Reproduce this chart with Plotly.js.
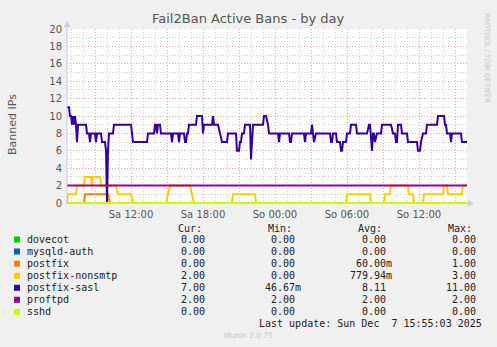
<!DOCTYPE html>
<html>
<head>
<meta charset="utf-8">
<script src="https://cdn.plot.ly/plotly-3.0.1.min.js"></script>
<style>
html,body{margin:0;padding:0;background:#F0F0F0;}
#chart{width:497px;height:347px;}
</style>
</head>
<body>
<div id="chart"></div>
<script>
// ---------------- data ----------------
const seriesNames = ['dovecot','mysqld-auth','postfix','postfix-nonsmtp','postfix-sasl','proftpd','sshd'];
const seriesColors = ['#00CC00','#0066B3','#FF8000','#FFCC00','#330099','#990099','#CCFF00'];

const flatTimes = ['2025-12-06 06:40','2025-12-07 16:00'];
const dovecotVals = [0, 0];
const mysqldVals = [0, 0];
const proftpdVals = [2, 2];
const sshdVals = [0, 0];

const postfixTimes = ['2025-12-06 06:40','2025-12-06 08:05','2025-12-06 08:10','2025-12-06 10:05','2025-12-06 10:15','2025-12-07 16:00'];
const postfixVals = [0,0,1,1,0,0];

const nonsmtpTimes = [
 '2025-12-06 06:40','2025-12-06 06:45','2025-12-06 07:25','2025-12-06 07:30','2025-12-06 08:05','2025-12-06 08:10',
 '2025-12-06 08:40','2025-12-06 08:45','2025-12-06 08:50','2025-12-06 09:25','2025-12-06 09:30','2025-12-06 10:45',
 '2025-12-06 10:55','2025-12-06 12:00','2025-12-06 12:10','2025-12-06 14:55','2025-12-06 15:05','2025-12-06 15:15',
 '2025-12-06 16:55','2025-12-06 17:15','2025-12-06 20:25','2025-12-06 20:30','2025-12-06 22:20','2025-12-06 22:25',
 '2025-12-07 05:55','2025-12-07 06:00','2025-12-07 07:55','2025-12-07 08:00','2025-12-07 09:05','2025-12-07 09:10',
 '2025-12-07 09:35','2025-12-07 09:40','2025-12-07 11:05','2025-12-07 11:10','2025-12-07 11:30','2025-12-07 11:35',
 '2025-12-07 12:20','2025-12-07 12:25','2025-12-07 14:00','2025-12-07 14:05','2025-12-07 14:20','2025-12-07 14:25',
 '2025-12-07 15:35','2025-12-07 15:40','2025-12-07 16:00'];
const nonsmtpVals = [
 0,1,1,2,2,3,
 3,2,3,3,2,2,
 1,1,0,0,1,2,
 2,0,0,1,1,0,
 0,1,1,0,0,1,
 1,2,2,1,1,0,
 0,1,1,2,2,1,
 1,2,2];

const saslTimes = [
 '2025-12-06 06:40','2025-12-06 06:50','2025-12-06 06:55','2025-12-06 07:00','2025-12-06 07:05','2025-12-06 07:10',
 '2025-12-06 07:15','2025-12-06 07:20','2025-12-06 07:25','2025-12-06 07:30','2025-12-06 07:35','2025-12-06 08:15',
 '2025-12-06 08:20','2025-12-06 08:30','2025-12-06 08:35','2025-12-06 08:40','2025-12-06 09:00','2025-12-06 09:05',
 '2025-12-06 09:10','2025-12-06 09:30','2025-12-06 09:35','2025-12-06 09:50','2025-12-06 09:55','2025-12-06 10:00',
 '2025-12-06 10:05','2025-12-06 10:10','2025-12-06 10:30','2025-12-06 10:35','2025-12-06 12:00','2025-12-06 12:10',
 '2025-12-06 13:20','2025-12-06 13:25','2025-12-06 13:55','2025-12-06 14:00','2025-12-06 14:05','2025-12-06 14:10',
 '2025-12-06 14:15','2025-12-06 14:25','2025-12-06 14:30','2025-12-06 15:20','2025-12-06 15:25','2025-12-06 15:30',
 '2025-12-06 15:55','2025-12-06 16:00','2025-12-06 16:05','2025-12-06 16:25','2025-12-06 16:30','2025-12-06 16:35',
 '2025-12-06 16:40','2025-12-06 16:45','2025-12-06 16:50','2025-12-06 17:25','2025-12-06 17:30','2025-12-06 17:55',
 '2025-12-06 18:00','2025-12-06 18:05','2025-12-06 18:45','2025-12-06 18:50','2025-12-06 18:55','2025-12-06 19:15',
 '2025-12-06 19:25','2025-12-06 19:35','2025-12-06 20:00','2025-12-06 20:05','2025-12-06 20:45','2025-12-06 20:50',
 '2025-12-06 21:00','2025-12-06 21:05','2025-12-06 21:10','2025-12-06 21:15','2025-12-06 21:25','2025-12-06 21:30',
 '2025-12-06 21:55','2025-12-06 22:00','2025-12-06 22:10','2025-12-06 23:00','2025-12-06 23:05','2025-12-06 23:15',
 '2025-12-06 23:25','2025-12-06 23:30','2025-12-07 00:15','2025-12-07 00:20','2025-12-07 00:25','2025-12-07 01:10',
 '2025-12-07 01:15','2025-12-07 01:20','2025-12-07 01:25','2025-12-07 02:25','2025-12-07 02:30','2025-12-07 02:35',
 '2025-12-07 03:00','2025-12-07 03:05','2025-12-07 03:15','2025-12-07 03:25','2025-12-07 04:35','2025-12-07 04:40',
 '2025-12-07 04:45','2025-12-07 04:50','2025-12-07 05:05','2025-12-07 05:10','2025-12-07 05:25','2025-12-07 05:30',
 '2025-12-07 05:35','2025-12-07 05:40','2025-12-07 05:55','2025-12-07 06:00','2025-12-07 06:15','2025-12-07 06:20',
 '2025-12-07 06:45','2025-12-07 06:50','2025-12-07 07:40','2025-12-07 07:50','2025-12-07 07:55','2025-12-07 08:05',
 '2025-12-07 08:10','2025-12-07 08:15','2025-12-07 08:20','2025-12-07 08:30','2025-12-07 08:50','2025-12-07 08:55',
 '2025-12-07 09:40','2025-12-07 09:50','2025-12-07 10:00','2025-12-07 10:05','2025-12-07 10:10','2025-12-07 10:15',
 '2025-12-07 10:30','2025-12-07 10:35','2025-12-07 11:00','2025-12-07 11:05','2025-12-07 11:50','2025-12-07 11:55',
 '2025-12-07 12:05','2025-12-07 12:10','2025-12-07 12:20','2025-12-07 12:35','2025-12-07 12:40','2025-12-07 13:30',
 '2025-12-07 13:35','2025-12-07 14:05','2025-12-07 14:10','2025-12-07 14:15','2025-12-07 14:20','2025-12-07 14:35',
 '2025-12-07 14:40','2025-12-07 14:45','2025-12-07 15:30','2025-12-07 15:35','2025-12-07 16:00'];
const saslVals = [
 11,11,10,10,9,10,
 9,10,9,7,9,9,
 8,8,7,8,8,7,
 8,8,7,7,6,0,
 6,8,8,9,9,7,
 7,8,8,9,9,8,
 9,9,8,8,7,8,
 8,7,8,8,7,7,
 8,8,9,9,10,10,
 8,9,9,10,9,9,
 8,7,7,8,8,6,
 6,7,7,8,8,9,
 9,5,9,9,10,10,
 9,8,8,7,8,8,
 7,7,8,8,7,8,
 8,9,7,8,8,7,
 7,8,8,7,7,6,
 6,7,7,8,8,9,
 9,8,8,9,9,6,
 8,8,7,8,8,9,
 9,8,8,7,7,9,
 9,8,8,7,7,6,
 6,7,8,8,9,9,
 10,10,9,9,8,8,
 7,8,8,7,7];

const legendHeaders = ['Cur:','Min:','Avg:','Max:'];
const curVals = ['0.00','0.00','0.00','2.00','7.00','2.00','0.00'];
const minVals = ['0.00','0.00','0.00','0.00','46.67m','2.00','0.00'];
const avgVals = ['0.00','0.00','60.00m','779.94m','8.11','2.00','0.00'];
const maxVals = ['0.00','0.00','1.00','3.00','11.00','2.00','0.00'];

const majorTicks = ['2025-12-06 09:00','2025-12-06 12:00','2025-12-06 15:00','2025-12-06 18:00','2025-12-06 21:00',
  '2025-12-07 00:00','2025-12-07 03:00','2025-12-07 06:00','2025-12-07 09:00','2025-12-07 12:00','2025-12-07 15:00'];
const majorLabels = ['','Sa 12:00','','Sa 18:00','','So 00:00','','So 06:00','','So 12:00',''];

const titleText = 'Fail2Ban Active Bans - by day';
const yTitleText = 'Banned IPs';
const lastUpdate = 'Last update: Sun Dec\u00a0\u00a07 15:55:03 2025';
const xStart = '2025-12-06 06:40', xEnd = '2025-12-07 16:00';

// ---------------- layout helpers ----------------
const W = 497, H = 347;
const L = 67, R = 30, T = 29, B = 142;
const PW = W - L - R, PH = H - T - B;
const px = x => (x - L) / PW;
const py = y => (T + PH - y) / PH;

// hourly minor ticks
const hourTicks = [];
for (let d = 6; d <= 7; d++) {
  for (let h = 0; h < 24; h++) {
    const s = '2025-12-0' + d + ' ' + (h < 10 ? '0' : '') + h + ':00';
    if (s > xStart && s < xEnd) hourTicks.push(s);
  }
}

const seriesX = [flatTimes, flatTimes, postfixTimes, nonsmtpTimes, saslTimes, flatTimes, flatTimes];
const seriesY = [dovecotVals, mysqldVals, postfixVals, nonsmtpVals, saslVals, proftpdVals, sshdVals];

const traces = seriesNames.map((n, i) => ({
  type: 'scatter', mode: 'lines', name: n,
  x: seriesX[i], y: seriesY[i],
  line: {color: seriesColors[i], width: 2},
  hoverinfo: 'skip'
}));

const mono = {family: 'DejaVu Sans Mono', size: 10, color: '#222'};
const annotations = [];
const shapes = [];

// title etc
annotations.push({xref:'paper', yref:'paper', x: px(248), y: py(19), text: titleText, showarrow:false,
  xanchor:'center', yanchor:'middle', font:{family:'DejaVu Sans', size:13, color:'#555'}});
annotations.push({xref:'paper', yref:'paper', x: px(12), y: py(124), text: yTitleText, showarrow:false, textangle:-90,
  xanchor:'center', yanchor:'middle', font:{family:'DejaVu Sans', size:11, color:'#555'}});
annotations.push({xref:'paper', yref:'paper', x: px(487), y: py(58), text: 'RRDTOOL / TOBI OETIKER', showarrow:false, textangle:90,
  xanchor:'center', yanchor:'middle', font:{family:'DejaVu Sans', size:7, color:'#C8C8C8'}});

// legend headers
const headerLeft = [176.7, 266.7, 356.7, 446.7];
legendHeaders.forEach((h, j) => annotations.push({xref:'paper', yref:'paper', x: px(headerLeft[j]), y: py(228.3), text: h,
  showarrow:false, xanchor:'left', yanchor:'middle', borderpad:0, font: mono}));

const rowY = [239.5, 251.5, 263.7, 275.8, 287.8, 299.8, 311.8];
const colRight = [212, 302, 392.7, 482.7];
const cols = [curVals, minVals, avgVals, maxVals];
seriesNames.forEach((n, i) => {
  shapes.push({type:'rect', xref:'paper', yref:'paper', x0: px(14), x1: px(20), y0: py(rowY[i] + 3), y1: py(rowY[i] - 3),
    fillcolor: seriesColors[i], line:{width:0}});
  annotations.push({xref:'paper', yref:'paper', x: px(25.5), y: py(rowY[i]), text: n, showarrow:false,
    xanchor:'left', yanchor:'middle', borderpad:0, font: mono});
  cols.forEach((c, j) => {
    const v = c[i];
    const t = /[0-9]$/.test(v) ? v + '\u00a0' : v;
    annotations.push({xref:'paper', yref:'paper', x: px(colRight[j]), y: py(rowY[i]), text: t, showarrow:false,
      xanchor:'right', yanchor:'middle', borderpad:0, font: mono});
  });
});
annotations.push({xref:'paper', yref:'paper', x: px(482.7), y: py(323.8), text: lastUpdate, showarrow:false,
  xanchor:'right', yanchor:'middle', borderpad:0, font: mono});
annotations.push({xref:'paper', yref:'paper', x: px(248), y: py(335.7), text: 'Munin 2.0.75', showarrow:false,
  xanchor:'center', yanchor:'middle', borderpad:0, font:{family:'DejaVu Sans', size:7.5, color:'#C8C8C8'}});

// axes lines and arrows
const axisCol = '#C8C8F0';
shapes.push({type:'line', xref:'paper', yref:'paper', x0: px(67), x1: px(67), y0: py(204), y1: py(24), line:{color:axisCol, width:1}});
shapes.push({type:'line', xref:'paper', yref:'paper', x0: px(66), x1: px(470), y0: py(203.5), y1: py(203.5), line:{color:axisCol, width:1}});
shapes.push({type:'path', xref:'paper', yref:'paper',
  path: 'M ' + px(64) + ' ' + py(27) + ' L ' + px(70) + ' ' + py(27) + ' L ' + px(67) + ' ' + py(21) + ' Z',
  fillcolor: axisCol, line:{width:0}});
shapes.push({type:'path', xref:'paper', yref:'paper',
  path: 'M ' + px(468) + ' ' + py(200.5) + ' L ' + px(468) + ' ' + py(206.5) + ' L ' + px(474) + ' ' + py(203.5) + ' Z',
  fillcolor: axisCol, line:{width:0}});

const tickFont = {family:'DejaVu Sans', size:10, color:'#555'};
const layout = {
  width: W, height: H,
  margin: {l: L, r: R, t: T, b: B, pad: 0},
  paper_bgcolor: '#F0F0F0', plot_bgcolor: '#FFFFFF',
  showlegend: false, hovermode: false,
  xaxis: {
    type: 'date', range: [xStart, xEnd], fixedrange: true,
    tickmode: 'array', tickvals: majorTicks, ticktext: majorLabels,
    showgrid: true, gridcolor: '#F0A8A8', gridwidth: 1, griddash: '1px,2px',
    minor: {tickmode: 'array', tickvals: hourTicks, showgrid: true, gridcolor: '#D4D4D4', gridwidth: 1, griddash: '1px,2px', ticks: ''},
    zeroline: false, showline: false, ticks: '', tickfont: tickFont, ticklabelstandoff: 2
  },
  yaxis: {
    range: [-0.23, 20], fixedrange: true,
    tickmode: 'linear', tick0: 0, dtick: 2,
    showgrid: true, gridcolor: '#F0A8A8', gridwidth: 1, griddash: '1px,2px',
    minor: {tick0: 0, dtick: 1, showgrid: true, gridcolor: '#D4D4D4', gridwidth: 1, griddash: '1px,2px', ticks: ''},
    zeroline: false, showline: false, ticks: '', tickfont: tickFont, ticklabelstandoff: 4
  },
  annotations: annotations,
  shapes: shapes
};

Plotly.newPlot('chart', traces, layout, {staticPlot: true, displayModeBar: false});
</script>
</body>
</html>
